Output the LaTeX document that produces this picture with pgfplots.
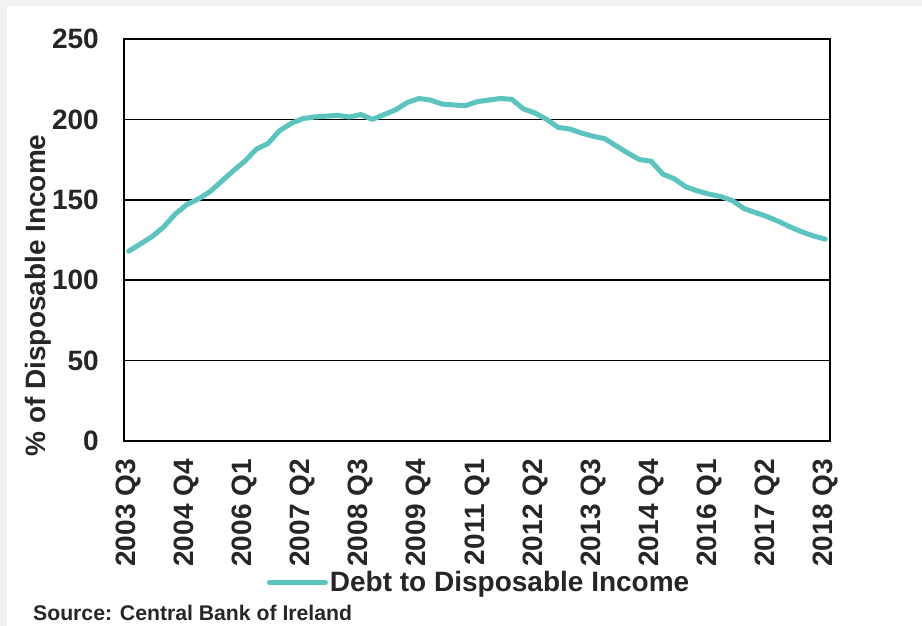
\documentclass[border=0pt]{standalone}
\usepackage{pgfplots}
\pgfplotsset{compat=1.18}
\usepackage{fontspec}
\setmainfont{Liberation Sans}
\definecolor{lineteal}{RGB}{91,196,191}
\definecolor{txt}{RGB}{38,38,38}
\definecolor{bggray}{RGB}{242,242,242}
\begin{document}
\begin{tikzpicture}
\fill[bggray] (0,0) rectangle (922pt,626pt);
\fill[white] (7pt,0) rectangle (922pt,620pt);
\begin{axis}[
  at={(124pt,185pt)}, anchor=south west,
  scale only axis, width=706pt, height=402pt,
  xmin=-0.4, xmax=60.4, ymin=0, ymax=250,
  ytick={0,50,...,250},
  xtick={0,5,...,60},
  xticklabels={2003 Q3,2004 Q4,2006 Q1,2007 Q2,2008 Q3,2009 Q4,2011 Q1,2012 Q2,2013 Q3,2014 Q4,2016 Q1,2017 Q2,2018 Q3},
  major tick length=0pt,
  ymajorgrids, major grid style={black, line width=1.6pt},
  axis line style={black, line width=2pt},
  /pgf/number format/assume math mode=true,
  tick label style={font=\fontsize{28}{30}\selectfont\bfseries, text=txt, inner sep=0pt},
  xticklabel style={rotate=90, anchor=east},
  yticklabel style={anchor=east},
  xticklabel shift=18pt, yticklabel shift=25pt,
  ylabel={\% of Disposable Income},
  ylabel style={at={(axis description cs:-0.122,0.362)}, anchor=center, font=\fontsize{28}{30}\selectfont\bfseries, text=txt},
  legend style={at={(axis description cs:0.503,-0.351)}, anchor=center, draw=none, fill=none, inner sep=0pt, font=\fontsize{28}{30}\selectfont\bfseries, text=txt, nodes={inner sep=2pt}},
  legend image code/.code={\draw[#1, line cap=round] (0pt,0pt) -- (56pt,0pt);},
]
\addplot[lineteal, line width=5pt, line join=round, line cap=round] table[x=i, y=v] {
i v
0 118
1 122.5
2 127
3 133
4 141
5 147
6 150.5
7 155
8 161.5
9 168
10 174
11 181.5
12 185
13 193
14 197.5
15 200.5
16 201.5
17 202
18 202.5
19 201.5
20 203
21 200
22 203
23 206
24 210.5
25 213
26 212
27 209.5
28 209
29 208.5
30 211
31 212
32 213
33 212.5
34 206.5
35 204
36 200
37 195
38 194
39 191.5
40 189.5
41 188
42 183.5
43 179
44 175
45 174
46 166
47 163
48 158
49 155.5
50 153.5
51 152
52 149.5
53 144.5
54 142
55 139.5
56 136.5
57 133
58 130
59 127.5
60 125.5
};
\addlegendentry{Debt to Disposable Income}
\end{axis}
\node[anchor=base west, inner sep=0pt, text=txt, font=\fontsize{21.2}{23}\selectfont\bfseries] at (33pt,5pt) {Source: Central Bank of Ireland};
\pgfresetboundingbox
\useasboundingbox (0,0) rectangle (922pt,626pt);
\end{tikzpicture}
\end{document}
